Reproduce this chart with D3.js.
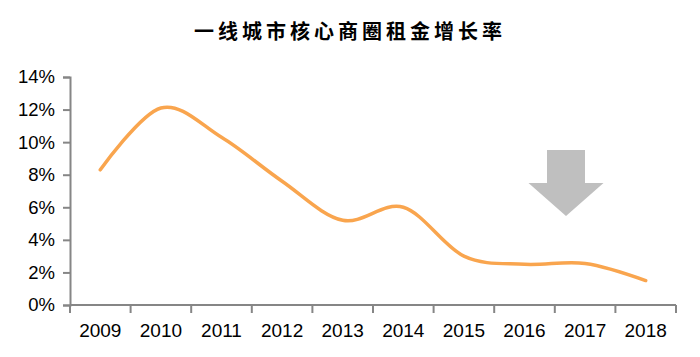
<!DOCTYPE html>
<html>
<head>
<meta charset="utf-8">
<script src="https://cdn.jsdelivr.net/npm/d3@7/dist/d3.min.js"></script>
<style>
  html, body { margin: 0; padding: 0; background: #fff; }
  svg { display: block; }
</style>
</head>
<body>
<script>
const title = "一线城市核心商圈租金增长率";
const years = ["2009","2010","2011","2012","2013","2014","2015","2016","2017","2018"];
const rentGrowth = [8.3, 12.1, 10.3, 7.6, 5.2, 6.0, 3.0, 2.5, 2.55, 1.5];
const yTicks = [0, 2, 4, 6, 8, 10, 12, 14];

(function () {
const W = 700, H = 357;
const svg = d3.select("body").append("svg").attr("width", W).attr("height", H);

const x = d3.scaleBand().domain(years).range([70, 676]);
const y = d3.scaleLinear().domain([0, 14]).range([305, 77]);

// title
svg.append("text")
  .attr("x", 350).attr("y", 39)
  .attr("text-anchor", "middle")
  .attr("font-family", "'Noto Sans CJK SC', sans-serif")
  .attr("font-weight", "bold")
  .attr("font-size", 20)
  .attr("letter-spacing", 4)
  .attr("fill", "#000")
  .text(title);

const axisColor = "#868686";

// y axis
const yAxis = svg.append("g").attr("transform", "translate(70,0)")
  .call(d3.axisLeft(y).tickValues(yTicks).tickFormat(d => d + "%").tickSize(7).tickPadding(8));
yAxis.select(".domain").attr("stroke", axisColor).attr("stroke-width", 2);
yAxis.selectAll(".tick line").attr("stroke", axisColor).attr("stroke-width", 2);
yAxis.selectAll(".tick text")
  .attr("font-family", "'Liberation Sans', Arial, sans-serif")
  .attr("font-size", 18.5).attr("fill", "#000");

// x axis with ticks at band boundaries
const xAxisG = svg.append("g").attr("transform", "translate(0,305)");
xAxisG.append("line").attr("x1", 70).attr("x2", 676).attr("y1", 0).attr("y2", 0)
  .attr("stroke", axisColor).attr("stroke-width", 2);
const bounds = years.map(d => x(d)).concat([x(years[years.length-1]) + x.bandwidth()]);
xAxisG.selectAll("line.tk").data(bounds).enter().append("line")
  .attr("class", "tk")
  .attr("x1", d => d).attr("x2", d => d).attr("y1", 0).attr("y2", 8)
  .attr("stroke", axisColor).attr("stroke-width", 2);
xAxisG.selectAll("text").data(years).enter().append("text")
  .attr("x", d => x(d) + x.bandwidth() / 2)
  .attr("y", 32)
  .attr("text-anchor", "middle")
  .attr("font-family", "'Liberation Sans', Arial, sans-serif")
  .attr("font-size", 19).attr("fill", "#000")
  .text(d => d);

// line
const line = d3.line()
  .x((d, i) => x(years[i]) + x.bandwidth() / 2)
  .y(d => y(d))
  .curve(d3.curveCardinal.tension(0));
svg.append("path")
  .datum(rentGrowth)
  .attr("d", line)
  .attr("fill", "none")
  .attr("stroke", "#F9A54E")
  .attr("stroke-width", 3.5)
  .attr("stroke-linecap", "round")
  .attr("stroke-linejoin", "round");

// down arrow annotation
const ax = 566, aTop = 150, shaftHalf = 19, headHalf = 37.5, headY = 183, tipY = 216;
svg.append("path")
  .attr("d", `M${ax - shaftHalf},${aTop} L${ax + shaftHalf},${aTop} L${ax + shaftHalf},${headY} L${ax + headHalf},${headY} L${ax},${tipY} L${ax - headHalf},${headY} L${ax - shaftHalf},${headY} Z`)
  .attr("fill", "#BFBFBF");
})();
</script>
</body>
</html>
